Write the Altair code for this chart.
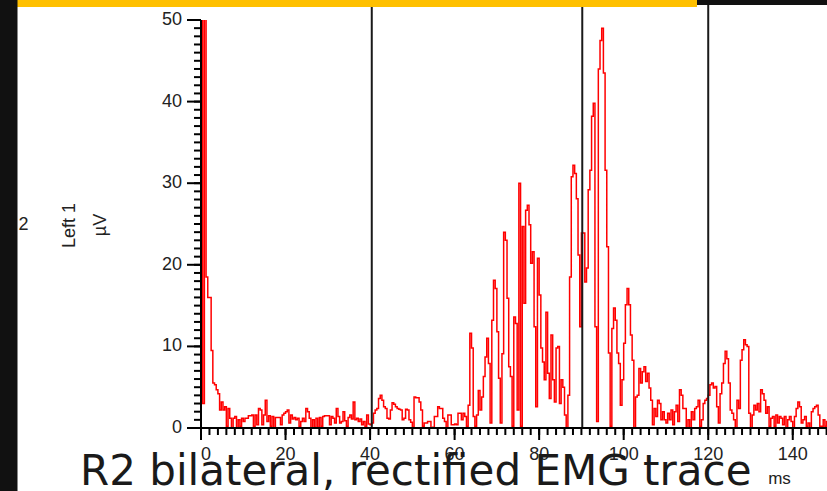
import altair as alt
import pandas as pd

# ---------------- data ----------------
SAMPLE_MS = 0.4  # spacing of the rectified EMG samples

emg_0_40 = [55, 3, 55, 18.5, 16, 16, 9.5, 5.5, 5.3, 4.7,
            4.2, 2.2, 3.2, 2.2, 2.6, 0.2, 2.4, 1.2, 0, 1.2,
            1.4, 0, 1.0, 0.2, 1.2, 0.8, 1.2, 1.2, 1.5, 1.5,
            1.6, 0.2, 1.6, 0.4, 2.4, 2.2, 0.4, 1.6, 3.4, 0.8,
            1.5, 0.2, 1.4, 0, 1.3, 1.3, 1.3, 0.4, 1.6, 1.8,
            2.0, 2.2, 0.6, 1.6, 1.1, 1.3, 1.0, 1.2, 0.2, 0.8,
            1.2, 0.8, 2.4, 2.0, 1.2, 0, 1.0, 0.1, 1.2, 0.1,
            1.3, 0.2, 1.4, 1.5, 1.5, 1.5, 0.4, 1.4, 1.2, 0.6,
            2.4, 1.4, 0.6, 0.8, 2.0, 0.9, 0.2, 1.3, 1.6, 1.1,
            3.2, 1.0, 1.2, 0.8, 1.1, 0.4, 0.8, 0.2, 1.6, 0.5]

emg_40_80 = [0.4, 0.6, 1.8, 2.2, 2.4, 3.6, 4.0, 3.4, 2.6, 2.4,
             1.2, 1.1, 2.2, 3.1, 2.9, 2.6, 2.4, 2.3, 2.2, 1.0,
             1.2, 2.3, 2.2, 1.0, 0.7, 0.1, 3.8, 3.7, 3.7, 3.2,
             2.2, 0.2, 0.6, 0.6, 0.8, 0.8, 0, 0.1, 1.4, 1.4,
             2.6, 2.4, 2.4, 1.2, 0.8, 0, 1.6, 1.6, 0.4, 0.4,
             0.5, 0.4, 1.8, 1.8, 1.0, 1.8, 1.4, 0.2, 2.8, 11.6,
             9.8, 1.4, 0.2, 1.6, 4.6, 2.2, 3.8, 6.3, 8.7, 11.0,
             7.9, 0.6, 13.2, 18.1, 17.1, 11.8, 6.1, 0.6, 9.1, 24,
             23, 15.9, 7.5, 6.3, 0.2, 13.6, 12.8, 2.2, 30, 0.2,
             24.7, 15.3, 26.7, 27.3, 24.9, 20.2, 21.6, 12.4, 2.6, 20.8]

emg_80_120 = [16.3, 9.8, 8.1, 5.9, 14.2, 6.7, 3.6, 11.4, 5.9, 3.2,
              9.8, 10, 3, 5.9, 5.0, 1.6, 0, 4.0, 18.5, 30.8,
              32.2, 31.2, 28.1, 21.2, 12.4, 23.9, 23.9, 17.9, 19.6, 29.2,
              31.6, 38.2, 39.8, 12.4, 0.8, 44, 47.5, 49, 43.5, 31.6,
              22.2, 9.2, 0.2, 12.2, 14.7, 13.2, 9.2, 7.9, 2.8, 5.9,
              10.4, 15.1, 17.1, 15.1, 11.4, 8.3, 0, 3.8, 4.0, 7.3,
              5.5, 6.9, 7.5, 5.7, 6.7, 4.9, 3.4, 0.4, 2.4, 1.4,
              3.4, 3.0, 1.0, 2.0, 1.0, 0.6, 1.8, 1.0, 2.2, 0.4,
              2.0, 2.8, 0.8, 4.7, 4.0, 2.4, 2.4, 0, 1.0, 0,
              2.0, 1.0, 2.4, 2.6, 3.4, 0.2, 1.0, 3.0, 3.4, 3.6]

emg_120_149 = [4.0, 5.3, 5.5, 4.9, 5.1, 2.6, 0.6, 4.2, 5.5, 7.9,
               9.4, 8.5, 5.5, 2.2, 1.8, 1.0, 0, 3.4, 2.4, 8.3,
               9.6, 10.8, 10.2, 10, 1.8, 0, 1.6, 2.8, 2.2, 3.0,
               2.0, 4.7, 4.2, 3.4, 1.8, 2.6, 0.2, 1.2, 1.4, 0.2,
               1.6, 0.6, 1.4, 1.2, 0.4, 1.4, 0, 1.0, 1.4, 0.8,
               0, 1.4, 2.4, 3.2, 2.6, 0.6, 1.0, 1.4, 0.2, 0.6,
               0, 2.0, 2.4, 2.6, 2.8, 1.6, 0.2, 0.2, 1.0, 0.2,
               0.8, 2.2, 2.2, 2.2]

marker_ms = [40.4, 90.2, 120.0]          # vertical cursor lines
y_major = [0, 10, 20, 30, 40, 50]
y_minor = [float(v) for v in range(0, 51, 1)]
x_major = [0, 20, 40, 60, 80, 100, 120, 140]
x_minor = [float(v) for v in range(0, 149, 2)]

title_text = "R2 bilateral, rectified EMG trace"
y_title_lines = ["Left 1", "µV"]
x_title = "ms"
channel_label = "2"

# ---------------- build tables ----------------
values = emg_0_40 + emg_40_80 + emg_80_120 + emg_120_149
df = pd.DataFrame({"t": [round(i * SAMPLE_MS, 2) for i in range(len(values))],
                   "v": values})
one = pd.DataFrame({"k": [0]})

W, H = 626, 408
PAD_L, PAD_T = 201, 20
xs = alt.Scale(domain=[0, 148.1], nice=False, zero=False)
ys = alt.Scale(domain=[0, 50], nice=False)
LF = "Liberation Sans"
INK = "#222222"
AX = "#000000"

trace = alt.Chart(df).mark_line(color="#ff0000", strokeWidth=1.5,
                                interpolate="step-after", clip=True).encode(
    x=alt.X("t:Q", scale=xs, axis=None),
    y=alt.Y("v:Q", scale=ys, axis=None),
)

# ---- hand-built axes (through the same scales) ----
y_domain = alt.Chart(one).mark_rule(color=AX, strokeWidth=2).encode(
    x=alt.value(0), y=alt.value(0), y2=alt.value(H + 1))
x_domain = alt.Chart(one).mark_rule(color=AX, strokeWidth=2).encode(
    y=alt.value(H), x=alt.value(-1), x2=alt.value(W))

y_major_ticks = alt.Chart(pd.DataFrame({"ym": [float(v) for v in y_major]})).mark_rule(
    color=AX, strokeWidth=2).encode(
    y=alt.Y("ym:Q", scale=ys, axis=None), x=alt.value(-14), x2=alt.value(0))
y_minor_ticks = alt.Chart(pd.DataFrame({"yn": y_minor})).mark_rule(
    color=AX, strokeWidth=2).encode(
    y=alt.Y("yn:Q", scale=ys, axis=None), x=alt.value(-7), x2=alt.value(0))
x_major_ticks = alt.Chart(pd.DataFrame({"xm": [float(v) for v in x_major]})).mark_rule(
    color=AX, strokeWidth=2).encode(
    x=alt.X("xm:Q", scale=xs, axis=None), y=alt.value(H), y2=alt.value(H + 12))
x_minor_ticks = alt.Chart(pd.DataFrame({"xn": x_minor})).mark_rule(
    color=AX, strokeWidth=2).encode(
    x=alt.X("xn:Q", scale=xs, axis=None), y=alt.value(H), y2=alt.value(H + 7))

y_labels = alt.Chart(pd.DataFrame({"yl": [float(v) for v in y_major],
                                   "s": [str(v) for v in y_major]})).mark_text(
    font=LF, fontSize=18, color=INK, align="right", baseline="middle").encode(
    y=alt.Y("yl:Q", scale=ys, axis=None), x=alt.value(-19), text="s:N")
x_labels_first = alt.Chart(pd.DataFrame({"xl": [float(x_major[0])],
                                         "s": [str(x_major[0])]})).mark_text(
    font=LF, fontSize=18, color=INK, align="left", baseline="alphabetic").encode(
    x=alt.X("xl:Q", scale=xs, axis=None), y=alt.value(H + 32), text="s:N")
x_labels_rest = alt.Chart(pd.DataFrame({"xl": [float(v) for v in x_major[1:]],
                                        "s": [str(v) for v in x_major[1:]]})).mark_text(
    font=LF, fontSize=18, color=INK, align="center", baseline="alphabetic").encode(
    x=alt.X("xl:Q", scale=xs, axis=None), y=alt.value(H + 32), text="s:N")

markers = alt.Chart(pd.DataFrame({"mt": marker_ms})).mark_rule(
    color="#1a1a1a", strokeWidth=2).encode(
    x=alt.X("mt:Q", scale=xs, axis=None),
    y=alt.value(-PAD_T), y2=alt.value(H),
)


def rect(x0, x1, y0, y1, color):
    return alt.Chart(one).mark_rect(color=color).encode(
        x=alt.value(x0 - PAD_L), x2=alt.value(x1 - PAD_L),
        y=alt.value(y0 - PAD_T), y2=alt.value(y1 - PAD_T))


def text(s, x, y, size, font=LF, angle=0, align="left", color=INK):
    kw = dict(text=s, font=font, fontSize=size, align=align,
              baseline="alphabetic", color=color)
    if angle:
        kw["angle"] = angle
    return alt.Chart(one).mark_text(**kw).encode(
        x=alt.value(x - PAD_L), y=alt.value(y - PAD_T))


yellow_bar = rect(0, 697, 0, 7, "#FFC000")
dark_bar = rect(697, 827, 0, 5, "#111111")
left_bar = rect(0, 17.5, 0, 491, "#111111")

y_title_1 = text(y_title_lines[0], 75, 225.5, 18, angle=270, align="center")
y_title_2 = text(y_title_lines[1], 106, 225, 18, angle=270, align="center")
x_title_mark = text(x_title, 779.5, 484, 17, align="center")
chan = text(channel_label, 18.5, 230, 18)
big_title = text(title_text, 80, 485, 42, font="DejaVu Sans", color="#1a1a1a")

chart = alt.layer(
    trace, markers,
    y_minor_ticks, x_minor_ticks, y_major_ticks, x_major_ticks, y_domain, x_domain,
    y_labels, x_labels_first, x_labels_rest,
    y_title_1, y_title_2, x_title_mark, chan, big_title,
    yellow_bar, dark_bar, left_bar,
).properties(
    width=W, height=H,
    autosize=alt.AutoSizeParams(type="none"),
    padding={"left": PAD_L, "top": PAD_T, "right": 0, "bottom": 491 - PAD_T - H},
    background="white",
).configure_view(stroke=None)

chart.save("out.html", embed_options={"renderer": "svg", "actions": False})
